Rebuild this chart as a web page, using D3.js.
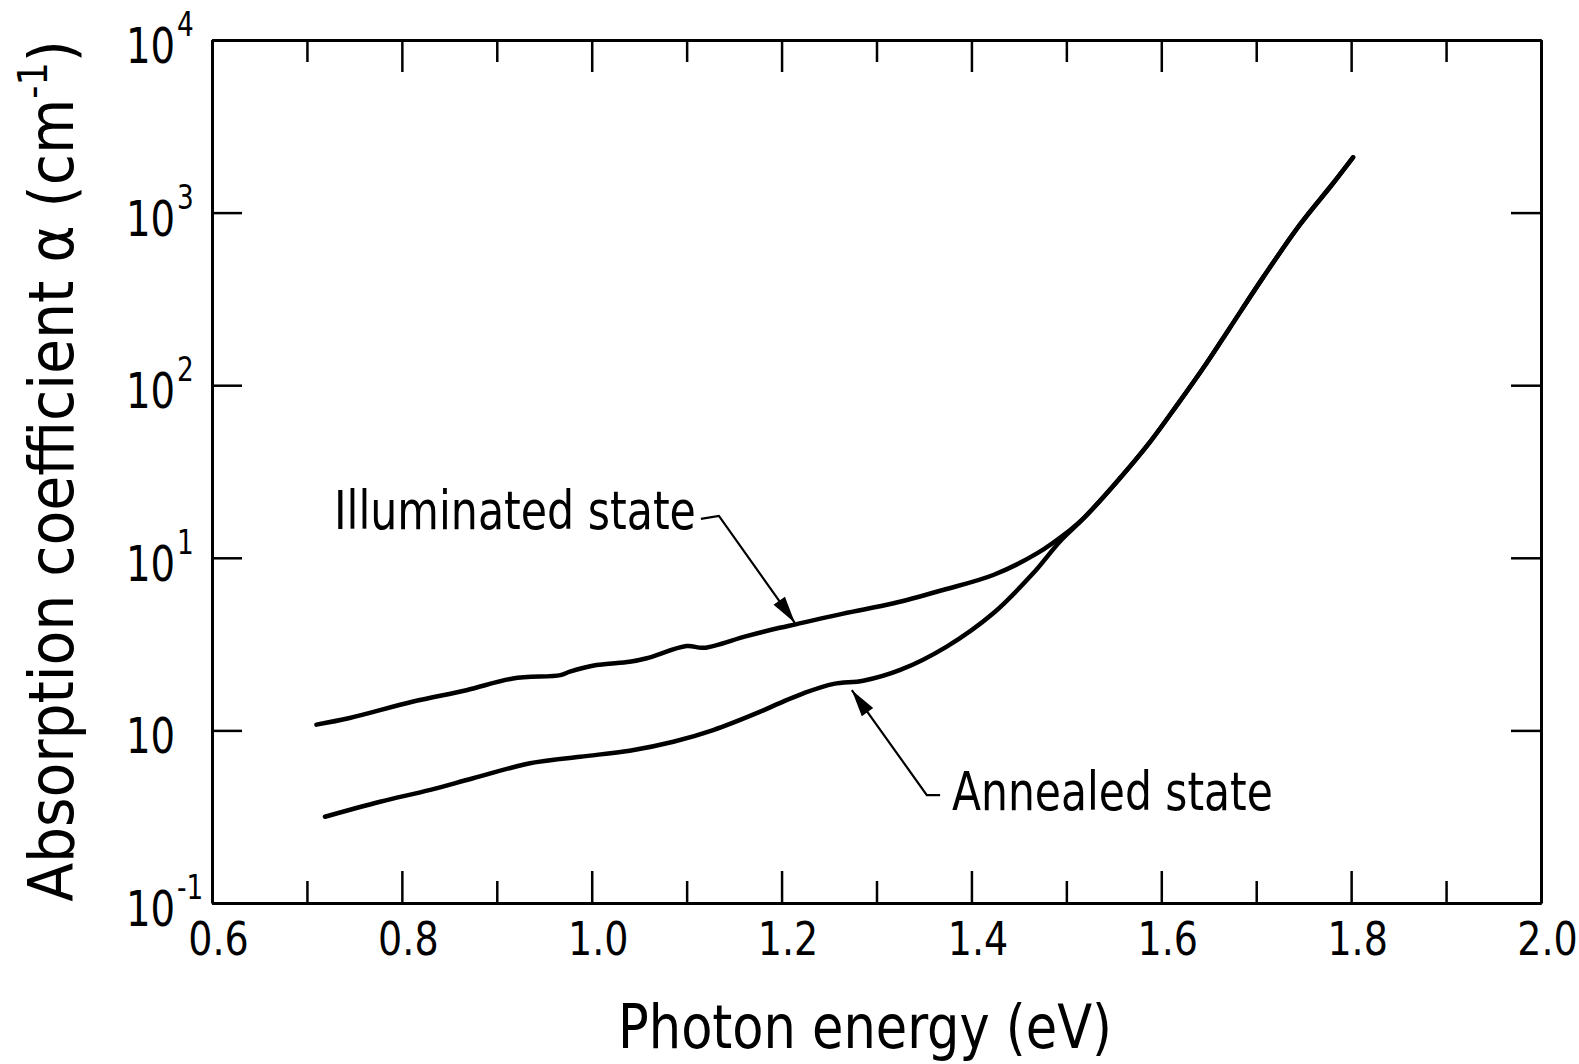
<!DOCTYPE html>
<html>
<head>
<meta charset="utf-8">
<script src="https://cdn.jsdelivr.net/npm/d3@7"></script>
<style>
	html, body { margin: 0; padding: 0; background: #fff; }
	svg { display: block; }
	text { font-family: "DejaVu Sans Condensed", "DejaVu Sans", sans-serif; fill: #000; }
</style>
</head>
<body>
<script>
// photon energy (eV) and absorption coefficient (cm^-1)
var illuminatedEnergy = [0.710, 0.745, 0.812, 0.868, 0.917, 0.967, 0.977, 1.005, 1.040, 1.058, 1.100, 1.118, 1.163, 1.198, 1.216, 1.265, 1.318, 1.370, 1.423, 1.469, 1.504, 1.518];
var illuminatedAlpha = [1.08, 1.18, 1.47, 1.71, 2.00, 2.09, 2.19, 2.39, 2.50, 2.62, 3.08, 3.01, 3.52, 3.93, 4.13, 4.75, 5.45, 6.51, 7.95, 10.6, 14.5, 16.9];

var annealedEnergy = [0.719, 0.777, 0.830, 0.875, 0.935, 0.988, 1.040, 1.086, 1.128, 1.177, 1.198, 1.223, 1.255, 1.286, 1.325, 1.374, 1.423, 1.465, 1.493, 1.518];
var annealedAlpha = [0.316, 0.386, 0.452, 0.528, 0.645, 0.704, 0.763, 0.860, 1.005, 1.28, 1.44, 1.64, 1.86, 1.94, 2.24, 3.06, 4.77, 8.13, 12.4, 16.9];

// common absorption edge above the point where both curves meet
var edgeEnergy = [1.518, 1.553, 1.588, 1.616, 1.648, 1.672, 1.708, 1.746, 1.781, 1.802];
var edgeAlpha = [16.9, 27.5, 46.8, 75.9, 135, 214, 427, 851, 1479, 2089];

var xMajorTicks = [0.6, 0.8, 1.0, 1.2, 1.4, 1.6, 1.8, 2.0];
var xMinorTicks = [0.7, 0.9, 1.1, 1.3, 1.5, 1.7, 1.9];
var xTickLabels = ['0.6', '0.8', '1.0', '1.2', '1.4', '1.6', '1.8', '2.0'];
var yTicks = [0.1, 1, 10, 100, 1000, 10000];
var yTickExponents = ['-1', '', '1', '2', '3', '4'];

var labelTexts = ['Illuminated state', 'Annealed state'];
var labelAnchors = [[0.7285, 14.7], [1.3795, 0.346]];
var leaderPoints = [
	[[1.115, 16.8], [1.134, 17.5], [1.214, 4.20]],
	[[1.367, 0.422], [1.353, 0.422], [1.274, 1.71]]
];

var svg = d3.select('body')
	.append('svg')
	.attr('width', 1579)
	.attr('height', 1064);

var x = d3.scaleLinear().domain([0.6, 2.0]).range([212, 1541]);
var y = d3.scaleLog().domain([0.1, 10000]).range([903, 40]);

// squeeze a text horizontally to a given width (the original lettering is narrow)
function fit(sel, targetWidth, px, py, angle) {
	var w = sel.node().getBBox().width;
	sel.attr('transform', 'translate(' + px + ',' + py + ') rotate(' + angle + ') scale(' + (targetWidth / w) + ',1)');
}

// frame and ticks, all pointing inward
function styleAxis(g) {
	g.select('.domain').attr('stroke', '#000').attr('stroke-width', 3);
	g.selectAll('.tick line').attr('stroke', '#000').attr('stroke-width', 2.5);
}

svg.append('g')
	.attr('transform', 'translate(0,' + y.range()[0] + ')')
	.call(d3.axisBottom(x).tickValues(xMajorTicks).tickSizeInner(-32).tickSizeOuter(0).tickPadding(19)
		.tickFormat(function(d, i) { return xTickLabels[i]; }))
	.call(styleAxis)
	.selectAll('.tick text')
	.attr('font-size', 47)
	.attr('font-family', '"DejaVu Sans Condensed", "DejaVu Sans", sans-serif')
	.attr('fill', '#000')
	.attr('transform', 'translate(6,0) scale(0.9,1)');

svg.append('g')
	.attr('transform', 'translate(0,' + y.range()[0] + ')')
	.call(d3.axisBottom(x).tickValues(xMinorTicks).tickSizeInner(-22).tickSizeOuter(0).tickFormat(''))
	.call(styleAxis);

svg.append('g')
	.attr('transform', 'translate(0,' + y.range()[1] + ')')
	.call(d3.axisTop(x).tickValues(xMajorTicks).tickSizeInner(-32).tickSizeOuter(0).tickFormat(''))
	.call(styleAxis);

svg.append('g')
	.attr('transform', 'translate(0,' + y.range()[1] + ')')
	.call(d3.axisTop(x).tickValues(xMinorTicks).tickSizeInner(-22).tickSizeOuter(0).tickFormat(''))
	.call(styleAxis);

svg.append('g')
	.attr('transform', 'translate(' + x.range()[0] + ',0)')
	.call(d3.axisLeft(y).tickValues(yTicks).tickSizeInner(-30).tickSizeOuter(0).tickFormat(''))
	.call(styleAxis);

svg.append('g')
	.attr('transform', 'translate(' + x.range()[1] + ',0)')
	.call(d3.axisRight(y).tickValues(yTicks).tickSizeInner(-30).tickSizeOuter(0).tickFormat(''))
	.call(styleAxis);

// y tick labels: 10 with a raised exponent
yTicks.forEach(function(t, i) {
	var label = svg.append('text')
		.attr('font-size', 50);
	label.append('tspan').text('10');
	label.append('tspan')
		.attr('font-size', 34)
		.attr('dx', 2)
		.attr('dy', -27)
		.text(yTickExponents[i]);
	fit(label, label.node().getBBox().width * 0.86, 126, y(t) + 23, 0);
});

// curves
var line = d3.line()
	.x(function(d) { return x(d[0]); })
	.y(function(d) { return y(d[1]); })
	.curve(d3.curveCatmullRom.alpha(0.5));

var series = [
	d3.zip(illuminatedEnergy.concat(edgeEnergy.slice(1)), illuminatedAlpha.concat(edgeAlpha.slice(1))),
	d3.zip(annealedEnergy.concat(edgeEnergy.slice(1)), annealedAlpha.concat(edgeAlpha.slice(1)))
];

series.forEach(function(points) {
	svg.append('path')
		.attr('d', line(points))
		.attr('fill', 'none')
		.attr('stroke', '#000')
		.attr('stroke-width', 4.5)
		.attr('stroke-linecap', 'round')
		.attr('stroke-linejoin', 'round');
});

// labels with leader arrows
var leaderLine = d3.line()
	.x(function(d) { return x(d[0]); })
	.y(function(d) { return y(d[1]); });

var labelWidths = [362, 321];

labelTexts.forEach(function(txt, i) {
	var label = svg.append('text')
		.attr('font-size', 54)
		.text(txt);
	fit(label, labelWidths[i], x(labelAnchors[i][0]), y(labelAnchors[i][1]), 0);

	var pts = leaderPoints[i];
	svg.append('path')
		.attr('d', leaderLine(pts))
		.attr('fill', 'none')
		.attr('stroke', '#000')
		.attr('stroke-width', 2.2);

	var a = pts[pts.length - 2], b = pts[pts.length - 1];
	var tx = x(b[0]), ty = y(b[1]);
	var dx = tx - x(a[0]), dy = ty - y(a[1]);
	var len = Math.sqrt(dx * dx + dy * dy);
	var ux = dx / len, uy = dy / len;
	var headLen = 27, headHalf = 7;
	var bx = tx - ux * headLen, by = ty - uy * headLen;
	svg.append('path')
		.attr('d', 'M' + tx + ',' + ty +
			'L' + (bx - uy * headHalf) + ',' + (by + ux * headHalf) +
			'L' + (bx + uy * headHalf) + ',' + (by - ux * headHalf) + 'Z')
		.attr('fill', '#000');
});

// axis titles
var xTitle = svg.append('text')
	.attr('font-size', 61)
	.attr('text-anchor', 'middle')
	.text('Photon energy (eV)');
fit(xTitle, 494, 865, 1048, 0);

var yTitle = svg.append('text')
	.attr('font-size', 62)
	.attr('text-anchor', 'middle');
yTitle.append('tspan').text('Absorption coefficient \u03b1 (cm');
yTitle.append('tspan').attr('font-size', 40).attr('dy', -26).text('-1');
yTitle.append('tspan').attr('dy', 26).text(')');
fit(yTitle, 862, 73, 471, -90);
</script>
</body>
</html>
